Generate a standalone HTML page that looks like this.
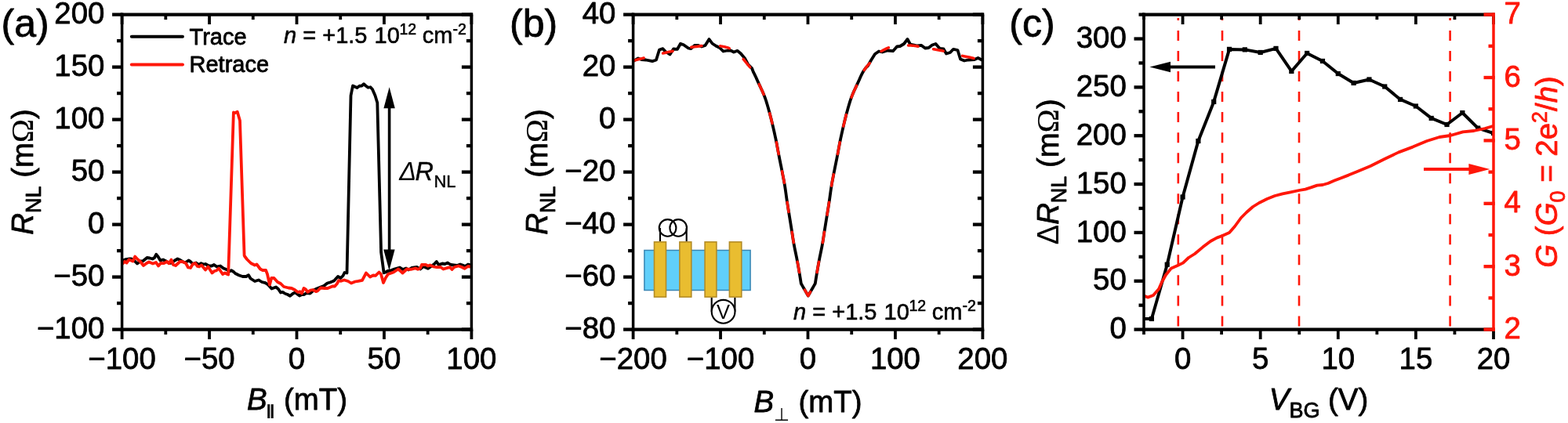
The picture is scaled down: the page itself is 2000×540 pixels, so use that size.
<!DOCTYPE html>
<html lang="en"><head><meta charset="utf-8"><title>Figure</title>
<style>
html,body{margin:0;padding:0;background:#fff;}
body{width:2000px;height:540px;overflow:hidden;}
svg{display:block;font-family:"Liberation Sans", sans-serif;}
text{stroke-width:0.8px;stroke-linejoin:round;paint-order:stroke;}
</style></head><body>
<svg width="2000" height="540" viewBox="0 0 2000 540">
<defs>
<clipPath id="clipA"><rect x="155.6" y="18.6" width="445.8" height="402"/></clipPath>
<clipPath id="clipB"><rect x="807.6" y="18.6" width="445.8" height="402"/></clipPath>
<clipPath id="clipC"><rect x="1459" y="18.6" width="446" height="402"/></clipPath>
</defs>
<rect width="2000" height="540" fill="#fff"/>
<g clip-path="url(#clipA)">
<polyline points="156,332.5 160,331.2 164,330.5 167.5,330.5 171,332.5 175,336.5 179,333.5 182,333.5 187.5,329 191,329.5 194.5,330.5 197,329 199.2,324.8 201.5,327.5 204.5,332.5 208,331.5 212,333.5 215.5,336 219,335.5 223,332.5 226.5,330.5 230,332 234,334.5 237,335 240.5,332.5 243,334 246,337 250,335.5 253.5,338 256.5,336.2 259.5,337.5 262,337 266.5,339.5 270,339.5 273,338 276.5,340.5 281,339.5 285,342.5 290,344.5 292.5,346.5 295,345.2 298,347 300,349 305,351.5 309.5,353 314,353 317,351.2 319.5,355.5 325,359 330,357.5 334,360 338.5,361.2 342,363.5 346.5,368.5 352,366.5 355,369 358,373.5 360.5,372.8 364,375 367,376 370,377.8 374,374.5 376.5,373.5 382,377.5 385,376 388,376 391,374 395.5,374.5 400,370.5 404,368.5 409,366.5 413,365 417.5,361.5 421,360.5 426,358.5 431,353 434.5,355 437.5,352 439.5,348 442.5,348.5 447.5,122 450,109.5 455.5,112 458.5,109.75 461.5,109.5 464,107.25 466.5,109.5 469.5,111.75 472.5,111.25 475,114 478.5,122 481.3,131.3 486.1,322 489.6,348.3 492,347.5 494.5,346 498,345.5 503,343.5 510,341.5 514,344 518,342.5 521,344.5 525,342 532,341 536,343.5 540,340 543,341.5 546,342.8 550,340 554,337 556.8,334 559.5,338 564,336.5 567.5,337 571,335.5 575,338 579,338.5 583,339 587,337.5 590,338.5 593,340 597,337.5 601.2,338.5" fill="none" stroke="#000" stroke-width="3.8" stroke-linejoin="round" stroke-linecap="round" />
<polyline points="156,337 159,334 161.5,335.5 164.5,331.5 169.5,333.5 172.2,327.5 176,331.5 179,334 183,339 187,336 190,334.5 195,336.5 199,335 202,339.5 205,336 209,336.2 213,334 215.5,336.2 218.5,331.5 221,338 224,339 229.5,334 232.5,334 237,336 240,341.5 243,342 246,337 249,336 252,340 254,340.5 257,338.5 262,344.5 265.5,340.5 270.5,348.5 273.5,346 276,345.5 279,342.5 284,350 287,348.5 290,350 291.2,350.5 297.9,143.5 300,144 302.75,142.75 306,154 311.6,326 312,327 315,331 320,336 325,338.5 327.5,337.5 332,343.5 335,345 339,344.8 341,350 344,363.5 346.2,355 349.5,355 354,360 358,362 362,366 368,367.5 372,368 376,370 380,373 382.5,372.2 385,374.5 387.5,368 390,369.5 392.5,372.8 396,370.5 399,370 403,372.2 405,371.5 409,367.5 414,368 418,368 424,365.5 427,365.5 430,362 432,358.2 435,358.8 439,357.5 444,359 448,361.5 453,359.5 457,358.8 462,357.8 467,348.5 472,353.5 476,351.5 479,351.8 483.5,347.5 486,350 489,361 492,354.5 495,350 502,347.5 508,343.5 513.5,348.5 519,343.5 524,343.8 530,342.5 533,343.8 536,342.5 538,338 543,337.8 546,339.5 548.5,338.5 553,340.5 557,341.2 562,341 565.5,343.5 570,342.2 574,341.2 576.5,344 579.5,341 585,339.5 589,341 592.5,342.8 597,340 601.2,340.5" fill="none" stroke="#ff1709" stroke-width="3.8" stroke-linejoin="round" stroke-linecap="round" />
</g>
<line x1="155.6" y1="420.6" x2="155.6" y2="433.1" stroke="#000" stroke-width="3.8" />
<line x1="155.6" y1="18.6" x2="155.6" y2="31.1" stroke="#000" stroke-width="3.8" />
<text x="155.6" y="471.4" font-size="38.4" text-anchor="middle" fill="#000" stroke="#000" >−100</text>
<line x1="267.05" y1="420.6" x2="267.05" y2="433.1" stroke="#000" stroke-width="3.8" />
<line x1="267.05" y1="18.6" x2="267.05" y2="31.1" stroke="#000" stroke-width="3.8" />
<text x="267.05" y="471.4" font-size="38.4" text-anchor="middle" fill="#000" stroke="#000" >−50</text>
<line x1="378.5" y1="420.6" x2="378.5" y2="433.1" stroke="#000" stroke-width="3.8" />
<line x1="378.5" y1="18.6" x2="378.5" y2="31.1" stroke="#000" stroke-width="3.8" />
<text x="378.5" y="471.4" font-size="38.4" text-anchor="middle" fill="#000" stroke="#000" >0</text>
<line x1="489.95" y1="420.6" x2="489.95" y2="433.1" stroke="#000" stroke-width="3.8" />
<line x1="489.95" y1="18.6" x2="489.95" y2="31.1" stroke="#000" stroke-width="3.8" />
<text x="489.95" y="471.4" font-size="38.4" text-anchor="middle" fill="#000" stroke="#000" >50</text>
<line x1="601.4" y1="420.6" x2="601.4" y2="433.1" stroke="#000" stroke-width="3.8" />
<line x1="601.4" y1="18.6" x2="601.4" y2="31.1" stroke="#000" stroke-width="3.8" />
<text x="601.4" y="471.4" font-size="38.4" text-anchor="middle" fill="#000" stroke="#000" >100</text>
<line x1="211.32" y1="420.6" x2="211.32" y2="427.1" stroke="#000" stroke-width="3.8" />
<line x1="211.32" y1="18.6" x2="211.32" y2="25.1" stroke="#000" stroke-width="3.8" />
<line x1="322.77" y1="420.6" x2="322.77" y2="427.1" stroke="#000" stroke-width="3.8" />
<line x1="322.77" y1="18.6" x2="322.77" y2="25.1" stroke="#000" stroke-width="3.8" />
<line x1="434.23" y1="420.6" x2="434.23" y2="427.1" stroke="#000" stroke-width="3.8" />
<line x1="434.23" y1="18.6" x2="434.23" y2="25.1" stroke="#000" stroke-width="3.8" />
<line x1="545.67" y1="420.6" x2="545.67" y2="427.1" stroke="#000" stroke-width="3.8" />
<line x1="545.67" y1="18.6" x2="545.67" y2="25.1" stroke="#000" stroke-width="3.8" />
<line x1="143.1" y1="420.6" x2="155.6" y2="420.6" stroke="#000" stroke-width="4.3" />
<line x1="588.9" y1="420.6" x2="601.4" y2="420.6" stroke="#000" stroke-width="4.3" />
<text x="133.4" y="432.2" font-size="38.4" text-anchor="end" fill="#000" stroke="#000" >−100</text>
<line x1="143.1" y1="353.6" x2="155.6" y2="353.6" stroke="#000" stroke-width="4.3" />
<line x1="588.9" y1="353.6" x2="601.4" y2="353.6" stroke="#000" stroke-width="4.3" />
<text x="133.4" y="365.2" font-size="38.4" text-anchor="end" fill="#000" stroke="#000" >−50</text>
<line x1="143.1" y1="286.6" x2="155.6" y2="286.6" stroke="#000" stroke-width="4.3" />
<line x1="588.9" y1="286.6" x2="601.4" y2="286.6" stroke="#000" stroke-width="4.3" />
<text x="133.4" y="298.2" font-size="38.4" text-anchor="end" fill="#000" stroke="#000" >0</text>
<line x1="143.1" y1="219.6" x2="155.6" y2="219.6" stroke="#000" stroke-width="4.3" />
<line x1="588.9" y1="219.6" x2="601.4" y2="219.6" stroke="#000" stroke-width="4.3" />
<text x="133.4" y="231.2" font-size="38.4" text-anchor="end" fill="#000" stroke="#000" >50</text>
<line x1="143.1" y1="152.6" x2="155.6" y2="152.6" stroke="#000" stroke-width="4.3" />
<line x1="588.9" y1="152.6" x2="601.4" y2="152.6" stroke="#000" stroke-width="4.3" />
<text x="133.4" y="164.2" font-size="38.4" text-anchor="end" fill="#000" stroke="#000" >100</text>
<line x1="143.1" y1="85.6" x2="155.6" y2="85.6" stroke="#000" stroke-width="4.3" />
<line x1="588.9" y1="85.6" x2="601.4" y2="85.6" stroke="#000" stroke-width="4.3" />
<text x="133.4" y="97.2" font-size="38.4" text-anchor="end" fill="#000" stroke="#000" >150</text>
<line x1="143.1" y1="18.6" x2="155.6" y2="18.6" stroke="#000" stroke-width="4.3" />
<line x1="588.9" y1="18.6" x2="601.4" y2="18.6" stroke="#000" stroke-width="4.3" />
<text x="133.4" y="30.2" font-size="38.4" text-anchor="end" fill="#000" stroke="#000" >200</text>
<line x1="149.1" y1="387.1" x2="155.6" y2="387.1" stroke="#000" stroke-width="4.3" />
<line x1="594.9" y1="387.1" x2="601.4" y2="387.1" stroke="#000" stroke-width="4.3" />
<line x1="149.1" y1="320.1" x2="155.6" y2="320.1" stroke="#000" stroke-width="4.3" />
<line x1="594.9" y1="320.1" x2="601.4" y2="320.1" stroke="#000" stroke-width="4.3" />
<line x1="149.1" y1="253.1" x2="155.6" y2="253.1" stroke="#000" stroke-width="4.3" />
<line x1="594.9" y1="253.1" x2="601.4" y2="253.1" stroke="#000" stroke-width="4.3" />
<line x1="149.1" y1="186.1" x2="155.6" y2="186.1" stroke="#000" stroke-width="4.3" />
<line x1="594.9" y1="186.1" x2="601.4" y2="186.1" stroke="#000" stroke-width="4.3" />
<line x1="149.1" y1="119.1" x2="155.6" y2="119.1" stroke="#000" stroke-width="4.3" />
<line x1="594.9" y1="119.1" x2="601.4" y2="119.1" stroke="#000" stroke-width="4.3" />
<line x1="149.1" y1="52.1" x2="155.6" y2="52.1" stroke="#000" stroke-width="4.3" />
<line x1="594.9" y1="52.1" x2="601.4" y2="52.1" stroke="#000" stroke-width="4.3" />
<line x1="153.85" y1="18.6" x2="603.15" y2="18.6" stroke="#000" stroke-width="4.1" />
<line x1="153.85" y1="420.6" x2="603.15" y2="420.6" stroke="#000" stroke-width="4.1" />
<line x1="155.6" y1="16.55" x2="155.6" y2="422.65" stroke="#000" stroke-width="3.5" />
<line x1="601.4" y1="16.55" x2="601.4" y2="422.65" stroke="#000" stroke-width="3.5" />
<line x1="167.8" y1="46.8" x2="233" y2="46.8" stroke="#000" stroke-width="3.9" stroke-linecap="round"/>
<line x1="167.8" y1="82.5" x2="233" y2="82.5" stroke="#ff1709" stroke-width="3.9" stroke-linecap="round"/>
<text x="241.5" y="56.6" font-size="29" text-anchor="start" fill="#000" stroke="#000" >Trace</text>
<text x="241.5" y="92" font-size="29" text-anchor="start" fill="#000" stroke="#000" >Retrace</text>
<text x="362" y="54.6" font-size="29" fill="#000" stroke="#000" style="stroke-width:0.6px"><tspan font-style="italic">n</tspan> = +1.5<tspan dx="1"> 10</tspan><tspan font-size="19.5" dy="-11" dx="-0.4">12</tspan><tspan dy="11" dx="-0.4"> cm</tspan><tspan font-size="19.5" dy="-11" dx="0">-2</tspan></text>
<line x1="496.6" y1="130" x2="496.6" y2="325" stroke="#000" stroke-width="3.6" />
<polygon points="496.6,111.2 489.4,138.2 503.8,138.2" fill="#000"/>
<polygon points="496.4,345.2 489.2,318.4 503.6,318.4" fill="#000"/>
<text x="509.2" y="230" font-size="32.5" fill="#000" stroke="#000" style="stroke-width:0.4px"><tspan font-style="italic" style="stroke-width:0">Δ</tspan><tspan font-style="italic" dx="-1.5">R</tspan><tspan font-size="22" dy="9" dx="0.5">NL</tspan></text>
<text x="1.6" y="46.5" font-size="50" text-anchor="start" fill="#000" stroke="#000" >(a)</text>
<text transform="translate(41.7,219.4) rotate(-90)" font-size="38.4" text-anchor="middle" fill="#000" stroke="#000"><tspan font-style="italic">R</tspan><tspan font-size="27" dy="10">NL</tspan><tspan dy="-10"> (m</tspan><tspan font-family="Liberation Serif, serif" font-size="40.5" style="stroke-width:0.15px">Ω</tspan><tspan>)</tspan></text>
<text x="315" y="522.9" font-size="38.4" fill="#000" stroke="#000" font-style="italic">B</text><text transform="translate(337.9,530.3) scale(1.55,1)" font-size="18.4" fill="#000" stroke="#000" style="stroke-width:0.5px">∥</text><text x="362" y="522.9" font-size="38.4" fill="#000" stroke="#000">(mT)</text>
<g clip-path="url(#clipB)">
<polyline points="807.6,78 814,74.5 818,76 824,76.5 832,78.2 837,76.5 841,63.5 845.5,62.2 849,66 854.5,69.5 859,62.5 864,62.8 868,55.8 872,57.2 878,61.5 881,62.2 886,58 890,57.8 895,59.5 899.5,58 904.5,50 908.5,55.5 913,58.5 918,61 922.5,65.5 928,64.5 932,64.5 936,66.5 940.5,64.8 945,68.5 950,74.5 954,82 959,87 961.07,92.32 961.81,93.7 962.53,95.11 963.24,96.57 963.93,98.06 964.62,99.59 965.32,101.15 966.03,102.74 966.75,104.36 967.5,106 968.28,107.67 969.08,109.39 969.91,111.15 970.75,112.94 971.59,114.75 972.42,116.58 973.24,118.43 974.03,120.29 974.79,122.15 975.5,124 976.17,125.86 976.82,127.75 977.44,129.66 978.04,131.58 978.62,133.5 979.18,135.42 979.72,137.34 980.26,139.25 980.78,141.14 981.3,143 981.8,144.84 982.29,146.65 982.75,148.44 983.21,150.22 983.65,152 984.08,153.78 984.51,155.56 984.94,157.35 985.37,159.16 985.8,161 986.24,162.86 986.67,164.74 987.1,166.64 987.54,168.55 987.96,170.47 988.38,172.39 988.8,174.31 989.21,176.22 989.61,178.12 990,180 990.38,181.86 990.74,183.7 991.08,185.52 991.42,187.34 991.76,189.16 992.09,190.98 992.43,192.82 992.77,194.68 993.13,196.57 993.5,198.5 993.89,200.48 994.29,202.51 994.71,204.58 995.13,206.68 995.56,208.78 995.98,210.88 996.4,212.97 996.82,215.03 997.22,217.04 997.6,219 997.97,220.89 998.33,222.74 998.69,224.54 999.04,226.31 999.38,228.06 999.72,229.81 1000.05,231.57 1000.37,233.34 1000.69,235.15 1001,237 1001.3,238.9 1001.6,240.84 1001.88,242.8 1002.16,244.79 1002.44,246.78 1002.71,248.77 1002.98,250.75 1003.25,252.7 1003.52,254.62 1003.8,256.5 1004.08,258.32 1004.35,260.08 1004.62,261.8 1004.9,263.5 1005.17,265.19 1005.44,266.88 1005.72,268.59 1006.01,270.34 1006.3,272.14 1006.6,274 1006.91,275.94 1007.24,277.96 1007.57,280.04 1007.91,282.15 1008.26,284.28 1008.6,286.41 1008.94,288.51 1009.27,290.58 1009.59,292.58 1009.9,294.5 1010.19,296.32 1010.45,298.06 1010.71,299.73 1010.95,301.36 1011.19,302.97 1011.44,304.58 1011.7,306.22 1011.97,307.9 1012.27,309.65 1012.6,311.5 1012.96,313.46 1013.36,315.51 1013.79,317.63 1014.23,319.8 1014.68,322 1015.13,324.2 1015.58,326.37 1016.01,328.49 1016.42,330.54 1016.8,332.5 1017.15,334.38 1017.49,336.23 1017.82,338.04 1018.13,339.8 1018.44,341.53 1018.73,343.22 1019.01,344.86 1019.28,346.45 1019.55,348 1019.8,349.5 1020.05,350.99 1020.3,352.49 1020.54,353.97 1020.77,355.42 1020.99,356.81 1021.19,358.12 1021.38,359.31 1021.54,360.37 1021.69,361.28 1021.8,362 1022.55,363.3 1023.3,364.6 1024.05,365.9 1024.8,367.2 1025.55,368.5 1026.3,369.8 1027.05,371.1 1027.8,372.4 1028.55,373.7 1029.3,375 1030.05,376.3 1030.8,377.6 1031.55,376.3 1032.3,375 1033.05,373.7 1033.8,372.4 1034.55,371.1 1035.3,369.8 1036.05,368.5 1036.8,367.2 1037.55,365.9 1038.3,364.6 1039.05,363.3 1039.8,362 1039.91,361.28 1040.06,360.37 1040.22,359.31 1040.41,358.12 1040.61,356.81 1040.83,355.42 1041.06,353.97 1041.3,352.49 1041.55,350.99 1041.8,349.5 1042.05,348 1042.32,346.45 1042.59,344.86 1042.87,343.22 1043.16,341.53 1043.47,339.8 1043.78,338.04 1044.11,336.23 1044.45,334.38 1044.8,332.5 1045.18,330.54 1045.59,328.49 1046.02,326.37 1046.47,324.2 1046.92,322 1047.37,319.8 1047.81,317.63 1048.24,315.51 1048.64,313.46 1049,311.5 1049.33,309.65 1049.63,307.9 1049.9,306.22 1050.16,304.58 1050.41,302.97 1050.65,301.36 1050.89,299.73 1051.15,298.06 1051.41,296.32 1051.7,294.5 1052.01,292.58 1052.33,290.58 1052.66,288.51 1053,286.41 1053.34,284.28 1053.69,282.15 1054.03,280.04 1054.36,277.96 1054.69,275.94 1055,274 1055.3,272.14 1055.59,270.34 1055.88,268.59 1056.16,266.88 1056.43,265.19 1056.7,263.5 1056.98,261.8 1057.25,260.08 1057.52,258.32 1057.8,256.5 1058.08,254.62 1058.35,252.7 1058.62,250.75 1058.89,248.77 1059.16,246.78 1059.44,244.79 1059.72,242.8 1060,240.84 1060.3,238.9 1060.6,237 1060.91,235.15 1061.23,233.34 1061.55,231.57 1061.88,229.81 1062.22,228.06 1062.56,226.31 1062.91,224.54 1063.27,222.74 1063.63,220.89 1064,219 1064.38,217.04 1064.78,215.03 1065.2,212.97 1065.62,210.88 1066.04,208.78 1066.47,206.68 1066.89,204.58 1067.31,202.51 1067.71,200.48 1068.1,198.5 1068.47,196.57 1068.83,194.68 1069.17,192.82 1069.51,190.98 1069.84,189.16 1070.18,187.34 1070.52,185.52 1070.86,183.7 1071.22,181.86 1071.6,180 1071.99,178.12 1072.39,176.22 1072.8,174.31 1073.22,172.39 1073.64,170.47 1074.06,168.55 1074.5,166.64 1074.93,164.74 1075.36,162.86 1075.8,161 1076.23,159.16 1076.66,157.35 1077.09,155.56 1077.52,153.78 1077.95,152 1078.39,150.22 1078.85,148.44 1079.31,146.65 1079.8,144.84 1080.3,143 1080.82,141.14 1081.34,139.25 1081.88,137.34 1082.42,135.42 1082.98,133.5 1083.56,131.58 1084.16,129.66 1084.78,127.75 1085.43,125.86 1086.1,124 1086.81,122.15 1087.57,120.29 1088.36,118.43 1089.18,116.58 1090.01,114.75 1090.85,112.94 1091.69,111.15 1092.52,109.39 1093.32,107.67 1094.1,106 1094.85,104.36 1095.57,102.74 1096.28,101.15 1096.98,99.59 1097.67,98.06 1098.36,96.57 1099.07,95.11 1099.79,93.7 1100.53,92.32 1101.3,91 1102.11,89.72 1102.96,88.47 1103.85,87.26 1104.75,86.1 1107,84 1111,77 1116,69 1121,65.5 1125.5,66.5 1132,64.5 1139,65.2 1144,59.5 1148,59 1153,56 1157.5,50 1161,56.5 1166,57.5 1170,58.5 1175,57.8 1180,61.5 1184.5,61 1189,57.5 1193.5,56 1198.5,61.8 1203.5,62.5 1207,68.5 1212,67 1216,62.8 1221.5,64 1225,75.5 1230,77.5 1235,76.5 1243,76 1247.5,74 1253.4,77" fill="none" stroke="#000" stroke-width="3.8" stroke-linejoin="round" stroke-linecap="round" />
<polyline points="809.09,77.15 809.53,77.03 810.96,76.65 812.57,76.22 814.29,75.76 816.07,75.29 817.87,74.82 819.63,74.37 821.1,74.01" fill="none" stroke="#ff1709" stroke-width="3.5" stroke-linejoin="round" stroke-linecap="round" />
<polyline points="845.5,68.07 846.54,67.82 848.11,67.44 849.77,67.04 851.49,66.64 853.23,66.24 854.97,65.85 856.66,65.48 858.09,65.17" fill="none" stroke="#ff1709" stroke-width="3.5" stroke-linejoin="round" stroke-linecap="round" />
<polyline points="881.73,60.31 882.55,60.19 883.44,60.07 884.35,59.96 885.26,59.84 886.17,59.73 887.07,59.62 887.95,59.51 888.8,59.4 889.63,59.28 890.44,59.16 891.23,59.04 892.01,58.91 892.79,58.79 893.57,58.68 894.35,58.57 895.06,58.48" fill="none" stroke="#ff1709" stroke-width="3.5" stroke-linejoin="round" stroke-linecap="round" />
<polyline points="918.54,58.81 918.77,58.84 919.74,58.98 920.68,59.13 921.6,59.29 922.5,59.46 923.37,59.64 924.21,59.82 925.02,60.01 925.8,60.2 926.53,60.39 927.19,60.58 927.82,60.77 928.4,60.96 928.97,61.17 929.54,61.39 930.11,61.63 930.41,61.76" fill="none" stroke="#ff1709" stroke-width="3.5" stroke-linejoin="round" stroke-linecap="round" />
<polyline points="948.04,75.44 948.43,75.88 948.92,76.47 949.43,77.08 949.96,77.72 950.52,78.41 951.13,79.17 951.8,80 952.53,80.9 953.33,81.85 954.17,82.84 955.05,83.88 955.94,84.97 956.68,85.88" fill="none" stroke="#ff1709" stroke-width="3.5" stroke-linejoin="round" stroke-linecap="round" />
<polyline points="968.24,107.59 968.28,107.67 969.08,109.39 969.91,111.15 970.75,112.94 971.59,114.75 972.42,116.58 973.24,118.43 974.03,120.29 974.12,120.53" fill="none" stroke="#ff1709" stroke-width="3.5" stroke-linejoin="round" stroke-linecap="round" />
<polyline points="981.76,144.69 981.8,144.84 982.29,146.65 982.75,148.44 983.21,150.22 983.65,152 984.08,153.78 984.51,155.56 984.94,157.35 984.97,157.46" fill="none" stroke="#ff1709" stroke-width="3.5" stroke-linejoin="round" stroke-linecap="round" />
<polyline points="990.35,181.72 990.38,181.86 990.74,183.7 991.08,185.52 991.42,187.34 991.76,189.16 992.09,190.98 992.43,192.82 992.77,194.68 993.13,196.57 993.17,196.78" fill="none" stroke="#ff1709" stroke-width="3.5" stroke-linejoin="round" stroke-linecap="round" />
<polyline points="997.55,218.76 997.6,219 997.97,220.89 998.33,222.74 998.69,224.54 999.04,226.31 999.38,228.06 999.72,229.81 1000.05,231.57 1000.37,233.34 1000.38,233.43" fill="none" stroke="#ff1709" stroke-width="3.5" stroke-linejoin="round" stroke-linecap="round" />
<polyline points="1004.06,258.23 1004.08,258.32 1004.35,260.08 1004.62,261.8 1004.9,263.5 1005.17,265.19 1005.44,266.88 1005.72,268.59 1006.01,270.34 1006.02,270.41" fill="none" stroke="#ff1709" stroke-width="3.5" stroke-linejoin="round" stroke-linecap="round" />
<polyline points="1010.17,296.23 1010.19,296.32 1010.45,298.06 1010.71,299.73 1010.95,301.36 1011.19,302.97 1011.44,304.58 1011.7,306.22 1011.97,307.9 1012.27,309.65 1012.29,309.78" fill="none" stroke="#ff1709" stroke-width="3.5" stroke-linejoin="round" stroke-linecap="round" />
<polyline points="1017.12,334.22 1017.15,334.38 1017.49,336.23 1017.82,338.04 1018.13,339.8 1018.44,341.53 1018.73,343.22 1019.01,344.86 1019.28,346.45 1019.51,347.77" fill="none" stroke="#ff1709" stroke-width="3.5" stroke-linejoin="round" stroke-linecap="round" />
<polyline points="1026.42,370.02 1027.05,371.1 1027.8,372.4 1028.55,373.7 1029.3,375 1030.05,376.3 1030.8,377.6 1031.55,376.3 1032.3,375 1033.05,373.7 1033.68,372.62" fill="none" stroke="#ff1709" stroke-width="3.5" stroke-linejoin="round" stroke-linecap="round" />
<polyline points="1042.09,347.77 1042.32,346.45 1042.59,344.86 1042.87,343.22 1043.16,341.53 1043.47,339.8 1043.78,338.04 1044.11,336.23 1044.45,334.38 1044.48,334.22" fill="none" stroke="#ff1709" stroke-width="3.5" stroke-linejoin="round" stroke-linecap="round" />
<polyline points="1049.31,309.78 1049.33,309.65 1049.63,307.9 1049.9,306.22 1050.16,304.58 1050.41,302.97 1050.65,301.36 1050.89,299.73 1051.15,298.06 1051.41,296.32 1051.43,296.23" fill="none" stroke="#ff1709" stroke-width="3.5" stroke-linejoin="round" stroke-linecap="round" />
<polyline points="1054.97,274.22 1055,274 1055.3,272.14 1055.59,270.34 1055.88,268.59 1056.16,266.88 1056.43,265.19 1056.7,263.5 1056.98,261.8 1057.25,260.08 1057.52,258.32 1057.54,258.23" fill="none" stroke="#ff1709" stroke-width="3.5" stroke-linejoin="round" stroke-linecap="round" />
<polyline points="1060.57,237.17 1060.6,237 1060.91,235.15 1061.23,233.34 1061.55,231.57 1061.88,229.81 1062.22,228.06 1062.56,226.31 1062.91,224.54 1063.27,222.74 1063.29,222.61" fill="none" stroke="#ff1709" stroke-width="3.5" stroke-linejoin="round" stroke-linecap="round" />
<polyline points="1068.43,196.78 1068.47,196.57 1068.83,194.68 1069.17,192.82 1069.51,190.98 1069.84,189.16 1070.18,187.34 1070.52,185.52 1070.86,183.7 1071.22,181.86 1071.25,181.72" fill="none" stroke="#ff1709" stroke-width="3.5" stroke-linejoin="round" stroke-linecap="round" />
<polyline points="1075.76,161.16 1075.8,161 1076.23,159.16 1076.66,157.35 1077.09,155.56 1077.52,153.78 1077.95,152 1078.39,150.22 1078.85,148.44 1079.31,146.65 1079.34,146.53" fill="none" stroke="#ff1709" stroke-width="3.5" stroke-linejoin="round" stroke-linecap="round" />
<polyline points="1086.02,124.22 1086.1,124 1086.81,122.15 1087.57,120.29 1088.36,118.43 1089.18,116.58 1090.01,114.75 1090.85,112.94 1091.69,111.15 1092.52,109.39 1092.58,109.26" fill="none" stroke="#ff1709" stroke-width="3.5" stroke-linejoin="round" stroke-linecap="round" />
<polyline points="1102.24,89.53 1102.96,88.47 1103.85,87.26 1104.75,86.1 1105.66,84.97 1106.55,83.88 1107.43,82.84 1108.27,81.85 1109.07,80.9 1109.37,80.53" fill="none" stroke="#ff1709" stroke-width="3.5" stroke-linejoin="round" stroke-linecap="round" />
<polyline points="1124,65.5 1124.09,65.43 1124.9,64.95 1125.72,64.49 1126.53,64.05 1127.34,63.63 1128.12,63.23 1128.88,62.85 1129.6,62.5 1130.27,62.18 1130.9,61.89 1131.49,61.63 1132.06,61.39 1132.62,61.17 1133.2,60.96 1133.4,60.9" fill="none" stroke="#ff1709" stroke-width="3.5" stroke-linejoin="round" stroke-linecap="round" />
<polyline points="1158.54,58 1158.68,58 1159.59,58.02 1160.49,58.04 1161.37,58.08 1162.24,58.12 1163.1,58.17 1163.95,58.23 1164.8,58.3 1165.64,58.38 1166.45,58.47 1167.25,58.57 1168.03,58.68 1168.81,58.79 1169.59,58.91 1170.37,59.04 1171.07,59.15" fill="none" stroke="#ff1709" stroke-width="3.5" stroke-linejoin="round" stroke-linecap="round" />
<polyline points="1190.52,62.73 1190.98,62.82 1192.18,63.03 1193.44,63.25 1194.75,63.48 1196.11,63.72 1197.5,63.97 1198.92,64.23 1200.35,64.5 1201.8,64.8 1203.23,65.1" fill="none" stroke="#ff1709" stroke-width="3.5" stroke-linejoin="round" stroke-linecap="round" />
<polyline points="1227.51,71.38 1228.04,71.49 1229.26,71.73 1230.52,71.97 1231.84,72.21 1233.19,72.45 1234.57,72.71 1235.97,72.99 1237.38,73.28 1238.8,73.6 1240.31,73.96 1241.97,74.37 1242.03,74.39" fill="none" stroke="#ff1709" stroke-width="3.5" stroke-linejoin="round" stroke-linecap="round" />
</g>
<line x1="807.6" y1="420.6" x2="807.6" y2="433.1" stroke="#000" stroke-width="3.8" />
<line x1="807.6" y1="18.6" x2="807.6" y2="31.1" stroke="#000" stroke-width="3.8" />
<text x="807.6" y="471.4" font-size="38.4" text-anchor="middle" fill="#000" stroke="#000" >−200</text>
<line x1="919.05" y1="420.6" x2="919.05" y2="433.1" stroke="#000" stroke-width="3.8" />
<line x1="919.05" y1="18.6" x2="919.05" y2="31.1" stroke="#000" stroke-width="3.8" />
<text x="919.05" y="471.4" font-size="38.4" text-anchor="middle" fill="#000" stroke="#000" >−100</text>
<line x1="1030.5" y1="420.6" x2="1030.5" y2="433.1" stroke="#000" stroke-width="3.8" />
<line x1="1030.5" y1="18.6" x2="1030.5" y2="31.1" stroke="#000" stroke-width="3.8" />
<text x="1030.5" y="471.4" font-size="38.4" text-anchor="middle" fill="#000" stroke="#000" >0</text>
<line x1="1141.95" y1="420.6" x2="1141.95" y2="433.1" stroke="#000" stroke-width="3.8" />
<line x1="1141.95" y1="18.6" x2="1141.95" y2="31.1" stroke="#000" stroke-width="3.8" />
<text x="1141.95" y="471.4" font-size="38.4" text-anchor="middle" fill="#000" stroke="#000" >100</text>
<line x1="1253.4" y1="420.6" x2="1253.4" y2="433.1" stroke="#000" stroke-width="3.8" />
<line x1="1253.4" y1="18.6" x2="1253.4" y2="31.1" stroke="#000" stroke-width="3.8" />
<text x="1253.4" y="471.4" font-size="38.4" text-anchor="middle" fill="#000" stroke="#000" >200</text>
<line x1="863.33" y1="420.6" x2="863.33" y2="427.1" stroke="#000" stroke-width="3.8" />
<line x1="863.33" y1="18.6" x2="863.33" y2="25.1" stroke="#000" stroke-width="3.8" />
<line x1="974.78" y1="420.6" x2="974.78" y2="427.1" stroke="#000" stroke-width="3.8" />
<line x1="974.78" y1="18.6" x2="974.78" y2="25.1" stroke="#000" stroke-width="3.8" />
<line x1="1086.23" y1="420.6" x2="1086.23" y2="427.1" stroke="#000" stroke-width="3.8" />
<line x1="1086.23" y1="18.6" x2="1086.23" y2="25.1" stroke="#000" stroke-width="3.8" />
<line x1="1197.68" y1="420.6" x2="1197.68" y2="427.1" stroke="#000" stroke-width="3.8" />
<line x1="1197.68" y1="18.6" x2="1197.68" y2="25.1" stroke="#000" stroke-width="3.8" />
<line x1="795.1" y1="420.6" x2="807.6" y2="420.6" stroke="#000" stroke-width="4.3" />
<line x1="1240.9" y1="420.6" x2="1253.4" y2="420.6" stroke="#000" stroke-width="4.3" />
<text x="785.4" y="432.2" font-size="38.4" text-anchor="end" fill="#000" stroke="#000" >−80</text>
<line x1="795.1" y1="353.6" x2="807.6" y2="353.6" stroke="#000" stroke-width="4.3" />
<line x1="1240.9" y1="353.6" x2="1253.4" y2="353.6" stroke="#000" stroke-width="4.3" />
<text x="785.4" y="365.2" font-size="38.4" text-anchor="end" fill="#000" stroke="#000" >−60</text>
<line x1="795.1" y1="286.6" x2="807.6" y2="286.6" stroke="#000" stroke-width="4.3" />
<line x1="1240.9" y1="286.6" x2="1253.4" y2="286.6" stroke="#000" stroke-width="4.3" />
<text x="785.4" y="298.2" font-size="38.4" text-anchor="end" fill="#000" stroke="#000" >−40</text>
<line x1="795.1" y1="219.6" x2="807.6" y2="219.6" stroke="#000" stroke-width="4.3" />
<line x1="1240.9" y1="219.6" x2="1253.4" y2="219.6" stroke="#000" stroke-width="4.3" />
<text x="785.4" y="231.2" font-size="38.4" text-anchor="end" fill="#000" stroke="#000" >−20</text>
<line x1="795.1" y1="152.6" x2="807.6" y2="152.6" stroke="#000" stroke-width="4.3" />
<line x1="1240.9" y1="152.6" x2="1253.4" y2="152.6" stroke="#000" stroke-width="4.3" />
<text x="785.4" y="164.2" font-size="38.4" text-anchor="end" fill="#000" stroke="#000" >0</text>
<line x1="795.1" y1="85.6" x2="807.6" y2="85.6" stroke="#000" stroke-width="4.3" />
<line x1="1240.9" y1="85.6" x2="1253.4" y2="85.6" stroke="#000" stroke-width="4.3" />
<text x="785.4" y="97.2" font-size="38.4" text-anchor="end" fill="#000" stroke="#000" >20</text>
<line x1="795.1" y1="18.6" x2="807.6" y2="18.6" stroke="#000" stroke-width="4.3" />
<line x1="1240.9" y1="18.6" x2="1253.4" y2="18.6" stroke="#000" stroke-width="4.3" />
<text x="785.4" y="30.2" font-size="38.4" text-anchor="end" fill="#000" stroke="#000" >40</text>
<line x1="801.1" y1="387.1" x2="807.6" y2="387.1" stroke="#000" stroke-width="4.3" />
<line x1="1246.9" y1="387.1" x2="1253.4" y2="387.1" stroke="#000" stroke-width="4.3" />
<line x1="801.1" y1="320.1" x2="807.6" y2="320.1" stroke="#000" stroke-width="4.3" />
<line x1="1246.9" y1="320.1" x2="1253.4" y2="320.1" stroke="#000" stroke-width="4.3" />
<line x1="801.1" y1="253.1" x2="807.6" y2="253.1" stroke="#000" stroke-width="4.3" />
<line x1="1246.9" y1="253.1" x2="1253.4" y2="253.1" stroke="#000" stroke-width="4.3" />
<line x1="801.1" y1="186.1" x2="807.6" y2="186.1" stroke="#000" stroke-width="4.3" />
<line x1="1246.9" y1="186.1" x2="1253.4" y2="186.1" stroke="#000" stroke-width="4.3" />
<line x1="801.1" y1="119.1" x2="807.6" y2="119.1" stroke="#000" stroke-width="4.3" />
<line x1="1246.9" y1="119.1" x2="1253.4" y2="119.1" stroke="#000" stroke-width="4.3" />
<line x1="801.1" y1="52.1" x2="807.6" y2="52.1" stroke="#000" stroke-width="4.3" />
<line x1="1246.9" y1="52.1" x2="1253.4" y2="52.1" stroke="#000" stroke-width="4.3" />
<line x1="805.85" y1="18.6" x2="1255.15" y2="18.6" stroke="#000" stroke-width="4.1" />
<line x1="805.85" y1="420.6" x2="1255.15" y2="420.6" stroke="#000" stroke-width="4.1" />
<line x1="807.6" y1="16.55" x2="807.6" y2="422.65" stroke="#000" stroke-width="3.5" />
<line x1="1253.4" y1="16.55" x2="1253.4" y2="422.65" stroke="#000" stroke-width="3.5" />
<rect x="821.9" y="319.5" width="135.2" height="51" fill="#60cffa" stroke="#3a86b4" stroke-width="1.5"/>
<rect x="834.5" y="308.9" width="15" height="70.2" fill="#e9bd30" stroke="#b48c26" stroke-width="1.6"/>
<rect x="866.9" y="308.9" width="14.9" height="70.2" fill="#e9bd30" stroke="#b48c26" stroke-width="1.6"/>
<rect x="899.1" y="308.9" width="14.8" height="70.2" fill="#e9bd30" stroke="#b48c26" stroke-width="1.6"/>
<rect x="930.4" y="308.9" width="15.4" height="70.2" fill="#e9bd30" stroke="#b48c26" stroke-width="1.6"/>
<g fill="none" stroke="#000" stroke-width="2.1">
<circle cx="851.6" cy="290.9" r="10.8"/><circle cx="865.2" cy="290.9" r="10.8"/>
<path d="M842 290.9V308.1M875.7 290.9V308.1"/>
<path d="M907.7 379.9V397.8M937.4 379.9V397.8"/>
<circle cx="922.6" cy="397.8" r="14.9" fill="#fff"/>
</g>
<text x="922.6" y="406.8" font-size="25.5" text-anchor="middle" fill="#000" style="stroke-width:0">V</text>
<text x="1012" y="408.2" font-size="29" fill="#000" stroke="#000" style="stroke-width:0.6px"><tspan font-style="italic">n</tspan> = +1.5<tspan dx="1"> 10</tspan><tspan font-size="19.5" dy="-11" dx="-0.4">12</tspan><tspan dy="11" dx="-0.4"> cm</tspan><tspan font-size="19.5" dy="-11" dx="0">-2</tspan></text>
<text x="650" y="46.5" font-size="50" text-anchor="start" fill="#000" stroke="#000" >(b)</text>
<text transform="translate(698.4,219.4) rotate(-90)" font-size="38.4" text-anchor="middle" fill="#000" stroke="#000"><tspan font-style="italic">R</tspan><tspan font-size="27" dy="10">NL</tspan><tspan dy="-10"> (m</tspan><tspan font-family="Liberation Serif, serif" font-size="40.5" style="stroke-width:0.15px">Ω</tspan><tspan>)</tspan></text>
<text x="961.5" y="526.4" font-size="38.4" fill="#000" stroke="#000" font-style="italic">B</text><text x="987" y="537.2" font-size="22.5" fill="#000" style="stroke-width:0">⊥</text><text x="1018.5" y="526.4" font-size="38.4" fill="#000" stroke="#000">(mT)</text>
<line x1="1502.8" y1="23" x2="1502.8" y2="418" stroke="#ff1709" stroke-width="2.6" stroke-dasharray="13 13.03" stroke-dashoffset="10.03"/>
<line x1="1559" y1="23" x2="1559" y2="418" stroke="#ff1709" stroke-width="2.6" stroke-dasharray="13 13.03" stroke-dashoffset="10.03"/>
<line x1="1657" y1="23" x2="1657" y2="418" stroke="#ff1709" stroke-width="2.6" stroke-dasharray="13 13.03" stroke-dashoffset="10.03"/>
<line x1="1849.6" y1="23" x2="1849.6" y2="418" stroke="#ff1709" stroke-width="2.6" stroke-dasharray="13 13.03" stroke-dashoffset="10.03"/>
<g clip-path="url(#clipC)">
<polyline points="1459.99,406.99 1468.91,406.99 1488.73,337.73 1508.56,251.51 1528.38,180.02 1548.2,129.92 1568.02,62.88 1587.84,63.38 1607.67,66.96 1627.49,61.89 1647.31,90.96 1667.13,67.95 1686.96,77.97 1706.78,94.05 1726.6,105.93 1746.42,101.47 1766.24,110.5 1786.07,126.95 1805.89,135.49 1825.71,150.95 1845.53,158.99 1865.36,144.02 1885.18,163.57 1905,170" fill="none" stroke="#000" stroke-width="4" stroke-linejoin="round" stroke-linecap="round" />
<rect x="1465.81" y="403.89" width="6.2" height="6.2" fill="#000"/>
<rect x="1485.63" y="334.63" width="6.2" height="6.2" fill="#000"/>
<rect x="1505.46" y="248.41" width="6.2" height="6.2" fill="#000"/>
<rect x="1525.28" y="176.92" width="6.2" height="6.2" fill="#000"/>
<rect x="1545.1" y="126.82" width="6.2" height="6.2" fill="#000"/>
<rect x="1564.92" y="59.78" width="6.2" height="6.2" fill="#000"/>
<rect x="1584.74" y="60.28" width="6.2" height="6.2" fill="#000"/>
<rect x="1604.57" y="63.86" width="6.2" height="6.2" fill="#000"/>
<rect x="1624.39" y="58.79" width="6.2" height="6.2" fill="#000"/>
<rect x="1644.21" y="87.86" width="6.2" height="6.2" fill="#000"/>
<rect x="1664.03" y="64.85" width="6.2" height="6.2" fill="#000"/>
<rect x="1683.86" y="74.87" width="6.2" height="6.2" fill="#000"/>
<rect x="1703.68" y="90.95" width="6.2" height="6.2" fill="#000"/>
<rect x="1723.5" y="102.83" width="6.2" height="6.2" fill="#000"/>
<rect x="1743.32" y="98.37" width="6.2" height="6.2" fill="#000"/>
<rect x="1763.14" y="107.4" width="6.2" height="6.2" fill="#000"/>
<rect x="1782.97" y="123.85" width="6.2" height="6.2" fill="#000"/>
<rect x="1802.79" y="132.39" width="6.2" height="6.2" fill="#000"/>
<rect x="1822.61" y="147.85" width="6.2" height="6.2" fill="#000"/>
<rect x="1842.43" y="155.89" width="6.2" height="6.2" fill="#000"/>
<rect x="1862.26" y="140.92" width="6.2" height="6.2" fill="#000"/>
<rect x="1882.08" y="160.47" width="6.2" height="6.2" fill="#000"/>
<rect x="1901.9" y="166.9" width="6.2" height="6.2" fill="#000"/>
<polyline points="1459,377.6 1464,379.6 1471,377 1478,369 1482,360 1487,351 1494,342.4 1502,339 1509,335.6 1516,329 1524,324 1534,315.6 1544,308 1552,303.6 1559,301 1568,297 1575,289 1583,278 1590,271 1598,264 1606,259 1616,254 1626,250 1636,247.4 1646,245.4 1657,243 1665,241.6 1672,239.4 1680,236.6 1687,236 1694,234 1702,230.6 1710,227.4 1720,223.6 1730,219.5 1748,212 1766,203 1784,194.4 1802,187.6 1820,180 1836,175 1850,173 1866,168.4 1880,167 1894,164 1905,160.8" fill="none" stroke="#ff1709" stroke-width="3.8" stroke-linejoin="round" stroke-linecap="round" />
</g>
<line x1="1508.56" y1="420.6" x2="1508.56" y2="433.1" stroke="#000" stroke-width="3.8" />
<line x1="1508.56" y1="18.6" x2="1508.56" y2="31.1" stroke="#000" stroke-width="3.8" />
<text x="1508.56" y="471.4" font-size="38.4" text-anchor="middle" fill="#000" stroke="#000" >0</text>
<line x1="1607.67" y1="420.6" x2="1607.67" y2="433.1" stroke="#000" stroke-width="3.8" />
<line x1="1607.67" y1="18.6" x2="1607.67" y2="31.1" stroke="#000" stroke-width="3.8" />
<text x="1607.67" y="471.4" font-size="38.4" text-anchor="middle" fill="#000" stroke="#000" >5</text>
<line x1="1706.78" y1="420.6" x2="1706.78" y2="433.1" stroke="#000" stroke-width="3.8" />
<line x1="1706.78" y1="18.6" x2="1706.78" y2="31.1" stroke="#000" stroke-width="3.8" />
<text x="1706.78" y="471.4" font-size="38.4" text-anchor="middle" fill="#000" stroke="#000" >10</text>
<line x1="1805.89" y1="420.6" x2="1805.89" y2="433.1" stroke="#000" stroke-width="3.8" />
<line x1="1805.89" y1="18.6" x2="1805.89" y2="31.1" stroke="#000" stroke-width="3.8" />
<text x="1805.89" y="471.4" font-size="38.4" text-anchor="middle" fill="#000" stroke="#000" >15</text>
<line x1="1905" y1="420.6" x2="1905" y2="433.1" stroke="#000" stroke-width="3.8" />
<line x1="1905" y1="18.6" x2="1905" y2="31.1" stroke="#000" stroke-width="3.8" />
<text x="1905" y="471.4" font-size="38.4" text-anchor="middle" fill="#000" stroke="#000" >20</text>
<line x1="1459" y1="420.6" x2="1459" y2="427.1" stroke="#000" stroke-width="3.8" />
<line x1="1459" y1="18.6" x2="1459" y2="25.1" stroke="#000" stroke-width="3.8" />
<line x1="1558.11" y1="420.6" x2="1558.11" y2="427.1" stroke="#000" stroke-width="3.8" />
<line x1="1558.11" y1="18.6" x2="1558.11" y2="25.1" stroke="#000" stroke-width="3.8" />
<line x1="1657.22" y1="420.6" x2="1657.22" y2="427.1" stroke="#000" stroke-width="3.8" />
<line x1="1657.22" y1="18.6" x2="1657.22" y2="25.1" stroke="#000" stroke-width="3.8" />
<line x1="1756.33" y1="420.6" x2="1756.33" y2="427.1" stroke="#000" stroke-width="3.8" />
<line x1="1756.33" y1="18.6" x2="1756.33" y2="25.1" stroke="#000" stroke-width="3.8" />
<line x1="1855.44" y1="420.6" x2="1855.44" y2="427.1" stroke="#000" stroke-width="3.8" />
<line x1="1855.44" y1="18.6" x2="1855.44" y2="25.1" stroke="#000" stroke-width="3.8" />
<line x1="1446.5" y1="420.6" x2="1459" y2="420.6" stroke="#000" stroke-width="4.3" />
<text x="1436.8" y="432.2" font-size="38.4" text-anchor="end" fill="#000" stroke="#000" >0</text>
<line x1="1446.5" y1="358.75" x2="1459" y2="358.75" stroke="#000" stroke-width="4.3" />
<text x="1436.8" y="370.35" font-size="38.4" text-anchor="end" fill="#000" stroke="#000" >50</text>
<line x1="1446.5" y1="296.91" x2="1459" y2="296.91" stroke="#000" stroke-width="4.3" />
<text x="1436.8" y="308.51" font-size="38.4" text-anchor="end" fill="#000" stroke="#000" >100</text>
<line x1="1446.5" y1="235.06" x2="1459" y2="235.06" stroke="#000" stroke-width="4.3" />
<text x="1436.8" y="246.66" font-size="38.4" text-anchor="end" fill="#000" stroke="#000" >150</text>
<line x1="1446.5" y1="173.22" x2="1459" y2="173.22" stroke="#000" stroke-width="4.3" />
<text x="1436.8" y="184.82" font-size="38.4" text-anchor="end" fill="#000" stroke="#000" >200</text>
<line x1="1446.5" y1="111.37" x2="1459" y2="111.37" stroke="#000" stroke-width="4.3" />
<text x="1436.8" y="122.97" font-size="38.4" text-anchor="end" fill="#000" stroke="#000" >250</text>
<line x1="1446.5" y1="49.52" x2="1459" y2="49.52" stroke="#000" stroke-width="4.3" />
<text x="1436.8" y="61.12" font-size="38.4" text-anchor="end" fill="#000" stroke="#000" >300</text>
<line x1="1452.5" y1="389.68" x2="1459" y2="389.68" stroke="#000" stroke-width="4.3" />
<line x1="1452.5" y1="327.83" x2="1459" y2="327.83" stroke="#000" stroke-width="4.3" />
<line x1="1452.5" y1="265.98" x2="1459" y2="265.98" stroke="#000" stroke-width="4.3" />
<line x1="1452.5" y1="204.14" x2="1459" y2="204.14" stroke="#000" stroke-width="4.3" />
<line x1="1452.5" y1="142.29" x2="1459" y2="142.29" stroke="#000" stroke-width="4.3" />
<line x1="1452.5" y1="80.45" x2="1459" y2="80.45" stroke="#000" stroke-width="4.3" />
<line x1="1452.5" y1="18.6" x2="1459" y2="18.6" stroke="#000" stroke-width="4.3" />
<line x1="1457.25" y1="18.6" x2="1906.75" y2="18.6" stroke="#000" stroke-width="4.1" />
<line x1="1457.25" y1="420.6" x2="1906.75" y2="420.6" stroke="#000" stroke-width="4.1" />
<line x1="1459" y1="16.55" x2="1459" y2="422.65" stroke="#000" stroke-width="3.5" />
<line x1="1905" y1="16.55" x2="1905" y2="422.65" stroke="#ff1709" stroke-width="3.5" />
<line x1="1892.5" y1="420.6" x2="1906.75" y2="420.6" stroke="#ff1709" stroke-width="4.3" />
<text x="1918.6" y="432.2" font-size="38.4" text-anchor="start" fill="#ff1709" stroke="#ff1709" >2</text>
<line x1="1892.5" y1="340.2" x2="1906.75" y2="340.2" stroke="#ff1709" stroke-width="4.3" />
<text x="1918.6" y="351.8" font-size="38.4" text-anchor="start" fill="#ff1709" stroke="#ff1709" >3</text>
<line x1="1892.5" y1="259.8" x2="1906.75" y2="259.8" stroke="#ff1709" stroke-width="4.3" />
<text x="1918.6" y="271.4" font-size="38.4" text-anchor="start" fill="#ff1709" stroke="#ff1709" >4</text>
<line x1="1892.5" y1="179.4" x2="1906.75" y2="179.4" stroke="#ff1709" stroke-width="4.3" />
<text x="1918.6" y="191" font-size="38.4" text-anchor="start" fill="#ff1709" stroke="#ff1709" >5</text>
<line x1="1892.5" y1="99" x2="1906.75" y2="99" stroke="#ff1709" stroke-width="4.3" />
<text x="1918.6" y="110.6" font-size="38.4" text-anchor="start" fill="#ff1709" stroke="#ff1709" >6</text>
<line x1="1892.5" y1="18.6" x2="1906.75" y2="18.6" stroke="#ff1709" stroke-width="4.3" />
<text x="1918.6" y="30.2" font-size="38.4" text-anchor="start" fill="#ff1709" stroke="#ff1709" >7</text>
<line x1="1898.5" y1="380.4" x2="1905" y2="380.4" stroke="#ff1709" stroke-width="4.3" />
<line x1="1898.5" y1="300" x2="1905" y2="300" stroke="#ff1709" stroke-width="4.3" />
<line x1="1898.5" y1="219.6" x2="1905" y2="219.6" stroke="#ff1709" stroke-width="4.3" />
<line x1="1898.5" y1="139.2" x2="1905" y2="139.2" stroke="#ff1709" stroke-width="4.3" />
<line x1="1898.5" y1="58.8" x2="1905" y2="58.8" stroke="#ff1709" stroke-width="4.3" />
<line x1="1490" y1="85.5" x2="1550" y2="85.5" stroke="#000" stroke-width="4" />
<polygon points="1466.4,85.5 1493,78.7 1493,92.3" fill="#000"/>
<line x1="1816" y1="216" x2="1876" y2="216" stroke="#ff1709" stroke-width="4" />
<polygon points="1900.4,216 1873.4,209 1873.4,223" fill="#ff1709"/>
<text x="1287.3" y="46.5" font-size="50" text-anchor="start" fill="#000" stroke="#000" >(c)</text>
<text transform="translate(1349.8,219.4) rotate(-90)" font-size="38.4" text-anchor="middle" fill="#000" stroke="#000"><tspan style="stroke-width:0">Δ</tspan><tspan font-style="italic">R</tspan><tspan font-size="27" dy="10">NL</tspan><tspan dy="-10"> (m</tspan><tspan font-family="Liberation Serif, serif" font-size="40.5" style="stroke-width:0.15px">Ω</tspan><tspan>)</tspan></text>
<text x="1682" y="522.9" font-size="38.4" text-anchor="middle" fill="#000" stroke="#000"><tspan font-style="italic">V</tspan><tspan font-size="27" dy="10">BG</tspan><tspan dy="-10"> (V)</tspan></text>
<text transform="translate(1985.6,219.4) rotate(-90)" font-size="38.4" text-anchor="middle" fill="#ff1709" stroke="#ff1709"><tspan font-style="italic">G</tspan> (<tspan font-style="italic">G</tspan><tspan font-size="27" dy="10">0</tspan><tspan dy="-10"> = 2e</tspan><tspan font-size="27" dy="-13">2</tspan><tspan dy="13">/</tspan><tspan font-style="italic">h</tspan>)</text>
</svg>
</body></html>
